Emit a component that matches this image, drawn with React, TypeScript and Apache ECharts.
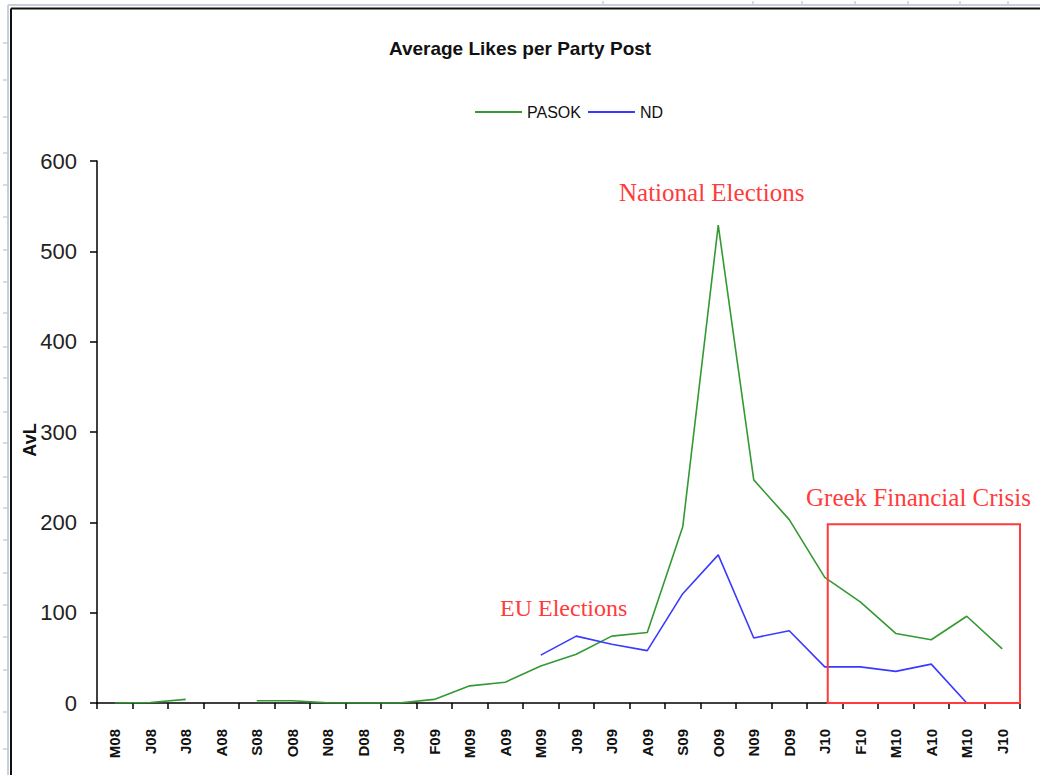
import React, { useEffect, useRef } from "react";
import * as echarts from "echarts";

const months = ["M08","J08","J08","A08","S08","O08","N08","D08","J09","F09","M09","A09","M09","J09","J09","A09","S09","O09","N09","D09","J10","F10","M10","A10","M10","J10"];
const pasok = [0,0.5,4,null,2.5,2.5,0.3,0,0,4,19,23,41,54,74,78,195,529,247,203,139,112,77,70,96,60];
const nd = [null,null,null,null,null,null,null,null,null,null,null,null,53,74,65,58,121,164,72,80,40,40,35,43,0,null];
const yTicks = { min: 0, max: 600, interval: 100 };
const crisisStartIndex = 20;
const crisisTop = 198;

const leftRulerYs = [43,80,117,153,185,217,250,282,313,347,378,412,443,477,508,540,573,605,637,670,712,749];
const topRulerXs = [603,753,802,855,908,960,1008];

export default function App() {
  const ref = useRef<HTMLDivElement>(null);
  useEffect(() => {
    if (!ref.current) return;
    const chart = echarts.init(ref.current, null, { renderer: "svg" });
    const red = "#ff3b3b";
    const green = "#339a33";
    const blue = "#3a3aff";
    const serif = "'Liberation Serif', 'DejaVu Serif', serif";
    const sans = "'Liberation Sans', Arial, sans-serif";
    chart.setOption({
      animation: false,
      backgroundColor: "#ffffff",
      title: {
        text: "Average Likes per Party Post",
        left: "center",
        top: 34,
        textStyle: { fontFamily: sans, fontSize: 19, fontWeight: "bold", color: "#111" },
      },
      legend: {
        left: 470,
        top: 99,
        itemWidth: 47,
        itemHeight: 2,
        itemGap: 7,
        icon: "rect",
        textStyle: { fontFamily: sans, fontSize: 16, color: "#111" },
        data: [
          { name: "PASOK", itemStyle: { color: green } },
          { name: "ND", itemStyle: { color: blue } },
        ],
      },
      grid: { left: 97, right: 20, top: 161, bottom: 72 },
      xAxis: {
        type: "category",
        data: months,
        boundaryGap: true,
        axisLine: { lineStyle: { color: "#000", width: 1.5 } },
        axisTick: { show: true, length: 6, lineStyle: { color: "#000", width: 1.5 }, interval: 0 },
        axisLabel: {
          rotate: 90,
          interval: 0,
          margin: 26,
          fontFamily: sans,
          fontSize: 15,
          fontWeight: "bold",
          color: "#111",
        },
        splitLine: { show: false },
      },
      yAxis: {
        type: "value",
        min: yTicks.min,
        max: yTicks.max,
        interval: yTicks.interval,
        name: "AvL",
        nameLocation: "middle",
        nameGap: 58,
        nameMoveOverlap: false,
        nameTextStyle: {
          fontFamily: sans,
          fontSize: 18,
          fontWeight: "bold",
          color: "#111",
          padding: [0, 16, 0, 0],
        },
        axisLine: { show: true, lineStyle: { color: "#000", width: 1.5 } },
        axisTick: { show: true, length: 7, lineStyle: { color: "#000", width: 1.5 } },
        axisLabel: { margin: 20, fontFamily: sans, fontSize: 22, color: "#222" },
        splitLine: { show: false },
      },
      series: [
        {
          name: "PASOK",
          type: "line",
          data: pasok,
          symbol: "none",
          connectNulls: false,
          lineStyle: { color: green, width: 1.6 },
          itemStyle: { color: green },
          z: 3,
        },
        {
          name: "ND",
          type: "line",
          data: nd,
          symbol: "none",
          connectNulls: false,
          lineStyle: { color: blue, width: 1.6 },
          itemStyle: { color: blue },
          z: 4,
        },
      ],
    });

    const [bx0, by0] = chart.convertToPixel({ gridIndex: 0 }, [crisisStartIndex, crisisTop]) as number[];
    const [, by1] = chart.convertToPixel({ gridIndex: 0 }, [crisisStartIndex, 0]) as number[];
    const bx1 = 1040 - 20;

    const graphics: any[] = [
      { type: "line", shape: { x1: 8, y1: 5, x2: 1040, y2: 5 }, style: { stroke: "#c9cfdd", lineWidth: 2 } },
      { type: "line", shape: { x1: 8, y1: 5, x2: 8, y2: 775 }, style: { stroke: "#c9cfdd", lineWidth: 2 } },
      { type: "line", shape: { x1: 11, y1: 8.5, x2: 1040, y2: 8.5 }, style: { stroke: "#111", lineWidth: 2 } },
      { type: "line", shape: { x1: 11, y1: 8.5, x2: 11, y2: 775 }, style: { stroke: "#111", lineWidth: 2 } },
      {
        type: "rect",
        shape: { x: bx0 + 3, y: by0, width: bx1 - bx0 - 3, height: by1 - by0 },
        style: { fill: "none", stroke: red, lineWidth: 2 },
        z: 10,
      },
      { type: "text", left: 619, top: 180, style: { text: "National Elections", fontFamily: serif, fontSize: 25, fill: red } },
      { type: "text", left: 500, top: 596, style: { text: "EU Elections", fontFamily: serif, fontSize: 24, fill: red } },
      { type: "text", left: 806, top: 485, style: { text: "Greek Financial Crisis", fontFamily: serif, fontSize: 25, fill: red } },
    ];
    leftRulerYs.forEach((y) => {
      graphics.push({ type: "line", shape: { x1: 3, y1: y, x2: 7, y2: y }, style: { stroke: "#c9cfdd", lineWidth: 1.5 } });
    });
    topRulerXs.forEach((x) => {
      graphics.push({ type: "line", shape: { x1: x, y1: 1, x2: x, y2: 5 }, style: { stroke: "#c9cfdd", lineWidth: 1.5 } });
    });
    chart.setOption({ graphic: graphics });

    return () => chart.dispose();
  }, []);
  return (
    <div
      ref={ref}
      style={{ position: "fixed", left: 0, top: 0, width: 1040, height: 775, background: "#fff" }}
    />
  );
}
